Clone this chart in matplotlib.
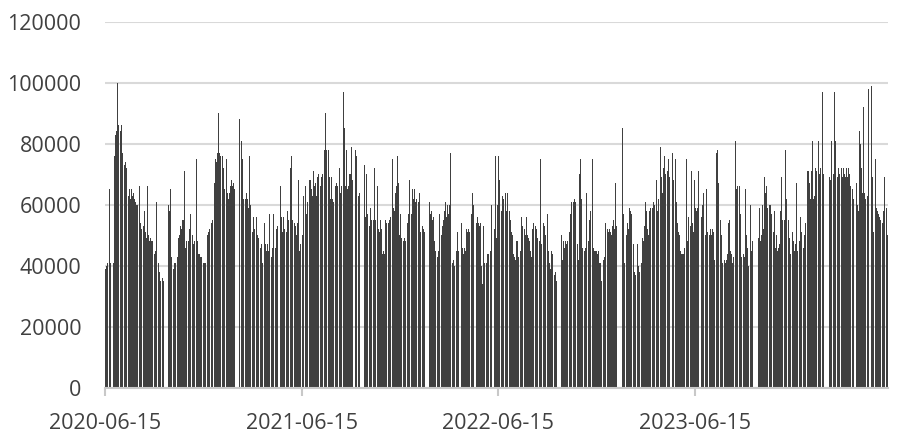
import numpy as np
import pandas as pd
import matplotlib
matplotlib.use('Agg')
import matplotlib.pyplot as plt

# daily values in thousands, one row per month (trading days only)
vol_2020 = [
    39, 40, 39, 41, 40, 65, 42, 41, 40, 41,
    41, 76, 83, 84, 100, 85, 78, 86, 84, 86, 85, 77, 76, 72, 73, 71, 74, 72, 63, 62, 64, 65, 62,
    65, 63, 62, 64, 62, 61, 60, 59, 58, 60, 56, 66, 54, 50, 52, 53, 51, 58, 52, 51, 49,
    66, 50, 49, 48, 49, 48, 47, 48, 47, 44, 42, 45, 43, 61, 41, 40, 38, 37, 35, 33, 36, 35,
    60, 58, 57, 65, 43, 41, 37, 39, 41, 40, 41, 40, 43, 46, 49, 50,
    53, 52, 54, 55, 55, 71, 46, 45, 47, 48, 48, 50, 52, 57, 51, 50, 46, 45, 47, 48, 46,
    75, 48, 46, 44, 44, 43, 42, 43, 41, 41, 40, 41, 40, 41, 40, 50, 51, 50, 52, 54, 53, 55, 54,
]
vol_2021 = [
    67, 75, 73, 74, 77, 90, 77, 71, 76, 72, 70, 76, 72, 64, 65, 64, 75, 63, 64, 62,
    64, 66, 68, 65, 66, 67, 65, 60, 88, 81, 81, 78, 75, 70, 62,
    62, 60, 64, 61, 62, 59, 62, 76, 60, 58, 51, 56, 54, 52, 50, 53, 56, 50, 48, 49, 46, 41, 47,
    44, 41, 54, 47, 41, 45, 47, 45, 44, 57, 46, 43, 42, 46, 52, 57, 44, 46, 52, 49, 53,
    66, 56, 51, 54, 56, 52, 50, 51, 55, 58, 53, 55, 45, 72, 76, 54, 55, 53,
    54, 53, 44, 50, 54, 68, 55, 45, 47, 50, 49, 55, 63, 66, 62, 57, 60, 61, 68, 62, 65,
    68, 65, 63, 71, 66, 64, 67, 63, 67, 69, 66, 70, 66, 64, 69, 70, 68, 78, 75, 90, 88, 78,
    78, 65, 63, 69, 62, 69, 62, 60, 61, 59, 66, 67, 65, 66, 64, 72, 65, 64, 63, 66, 90, 97,
    85, 67, 66, 78, 65, 64, 66, 70, 70, 79, 65, 66, 68, 78, 76, 72, 63, 62, 64, 63,
    73, 56, 55, 70, 57, 53, 53, 59, 56, 55, 53, 55, 54, 55, 72, 55,
    66, 54, 52, 50, 51, 55, 50, 52, 44, 45, 44, 55, 53, 52, 54, 54, 53, 55, 56, 54, 75, 57,
    59, 56, 58, 64, 66, 76, 69, 67, 50, 51, 57, 49, 48, 48, 47, 49, 48, 47, 54, 53, 55, 57, 68,
]
vol_2022 = [
    57, 56, 65, 62, 65, 61, 58, 62, 60, 61, 64, 58, 51, 50, 53, 51, 50, 52, 51,
    61, 57, 56, 58, 55, 56, 48, 47, 45, 44, 43, 37, 45, 57, 53, 50,
    45, 44, 53, 55, 58, 61, 56, 55, 60, 57, 58, 60, 77, 43, 41, 42, 38, 39, 40, 43, 45, 51, 44,
    45, 44, 54, 46, 44, 45, 46, 45, 52, 51, 52, 49, 51, 50, 54, 57, 64, 60, 58,
    54, 56, 54, 53, 54, 50, 40, 34, 36, 53, 35, 41, 41, 42, 44, 43, 44, 44, 45,
    60, 56, 51, 52, 50, 76, 49, 60, 58, 76, 68, 66, 58, 61, 63, 60, 62, 63, 64, 58, 57,
    64, 58, 57, 53, 55, 51, 50, 44, 42, 43, 42, 48, 47, 48, 41, 43, 41, 45, 56, 53, 51,
    52, 51, 50, 45, 56, 50, 49, 48, 43, 45, 43, 46, 52, 54, 50, 53, 52, 51, 49, 48, 48, 47, 75,
    46, 47, 45, 54, 53, 51, 50, 49, 57, 45, 41, 39, 44, 45, 44, 43, 36, 37, 38, 35, 32,
    50, 42, 48, 47, 46, 48, 45, 47, 46, 48, 51, 57, 56, 61, 60, 60,
    61, 62, 60, 61, 47, 42, 41, 42, 70, 75, 62, 48, 43, 46, 45, 46, 42, 60, 64, 46, 48, 47,
    55, 58, 55, 75, 46, 45, 45, 45, 44, 45, 44, 45, 41, 39, 41, 33, 35, 41, 42, 43, 54, 50,
]
vol_2023 = [
    52, 51, 50, 52, 51, 50, 49, 53, 55, 52, 51, 67, 50, 53, 58, 85,
    57, 55, 41, 40, 50, 54, 50, 52, 59, 58, 45, 57, 56, 47, 38, 37, 36, 37, 47, 41,
    40, 39, 38, 40, 41, 42, 49, 48, 53, 61, 58, 57, 52, 50, 58, 57, 59, 58, 59, 60, 61, 59, 60,
    68, 60, 58, 62, 65, 79, 65, 69, 64, 72, 76, 74, 69, 70, 71, 75, 73, 69, 68,
    77, 68, 75, 66, 61, 52, 54, 51, 50, 46, 45, 44, 44, 43, 44, 45, 46, 58, 75, 48,
    52, 56, 53, 50, 71, 52, 54, 51, 68, 55, 59, 58, 59, 71, 60, 56, 58, 60, 64, 55,
    50, 49, 65, 52, 51, 49, 50, 52, 51, 50, 52, 51, 50, 41, 42, 77, 78, 53, 52, 67, 55,
    51, 50, 42, 41, 41, 42, 41, 40, 42, 44, 43, 54, 55, 45, 44, 40, 41, 43, 42, 81, 73, 65, 66,
    65, 66, 61, 57, 44, 43, 44, 43, 42, 43, 65, 50, 46, 44, 40, 39, 60, 41, 45, 48,
    49, 48, 47, 59, 48, 50, 51, 60, 52, 69, 64, 63, 66, 59, 58, 57, 60,
    60, 57, 55, 47, 51, 58, 45, 46, 50, 45, 46, 45, 47, 58, 69, 58, 55, 54, 55, 57, 78, 62,
    62, 46, 55, 49, 48, 44, 51, 47, 48, 44, 45, 47, 46, 67, 44, 45, 48, 52, 56, 50, 51,
]
vol_2024 = [
    46, 47, 50, 54, 71, 68, 66, 71, 67, 62, 70, 71, 81, 62, 63, 72, 70, 68, 71, 73, 81, 70,
    71, 72, 97, 87, 70, 69, 69, 59, 68, 62, 81, 70, 97, 72, 71,
    81, 69, 65, 71, 72, 70, 72, 67, 69, 65, 72, 70, 69, 66, 72, 69, 72, 69, 70, 64, 66,
    64, 65, 62, 67, 62, 58, 60, 58, 84, 80, 71, 72, 64, 92, 64, 63, 61, 62, 63, 98,
    99, 60, 69, 61, 51, 73, 75, 59, 57, 58, 57, 56, 55, 54, 55, 54, 55, 58, 69, 57,
    59, 50, 49, 50, 51,
]

# weekday market holidays
holidays = [
    '2020-06-25', '2020-06-26',
    '2020-10-01', '2020-10-02', '2020-10-05', '2020-10-06', '2020-10-07', '2020-10-08',
    '2021-01-01',
    '2021-02-11', '2021-02-12', '2021-02-15', '2021-02-16', '2021-02-17',
    '2021-04-05', '2021-05-03', '2021-05-04', '2021-05-05', '2021-06-14',
    '2021-09-20', '2021-09-21',
    '2021-10-01', '2021-10-04', '2021-10-05', '2021-10-06', '2021-10-07',
    '2022-01-03', '2022-01-31', '2022-02-01', '2022-02-02', '2022-02-03', '2022-02-04',
    '2022-04-04', '2022-04-05', '2022-05-02', '2022-05-03', '2022-05-04', '2022-06-03',
    '2022-09-12', '2022-10-03', '2022-10-04', '2022-10-05', '2022-10-06', '2022-10-07',
    '2023-01-02', '2023-01-23', '2023-01-24', '2023-01-25', '2023-01-26', '2023-01-27',
    '2023-04-05', '2023-05-01', '2023-05-02', '2023-05-03', '2023-06-22', '2023-06-23',
    '2023-09-29', '2023-10-02', '2023-10-03', '2023-10-04', '2023-10-05', '2023-10-06',
    '2024-01-01', '2024-02-09', '2024-02-12', '2024-02-13', '2024-02-14', '2024-02-15',
    '2024-02-16', '2024-04-04', '2024-04-05', '2024-05-01', '2024-05-02', '2024-05-03',
]
tick_dates = ['2020-06-15', '2021-06-15', '2022-06-15', '2023-06-15']

days = pd.bdate_range('2020-06-15', '2024-06-07')
days = days[~days.isin(pd.to_datetime(holidays))]
values = np.array(vol_2020 + vol_2021 + vol_2022 + vol_2023 + vol_2024) * 1000
assert len(days) == len(values), (len(days), len(values))

plt.rcParams['font.family'] = ['Open Sans', 'DejaVu Sans']

fig = plt.figure(figsize=(9, 4.42), dpi=100)
ax = fig.add_axes([105 / 900, 54 / 442, 783 / 900, 366.5 / 442])

# one thin column per trading day; weekends stay as white slits
ax.vlines(days, 0, values, colors='#404040', linewidth=0.5, antialiased=False)

ax.set_ylim(0, 120000)
ax.set_yticks(range(0, 120001, 20000))
ax.set_xlim(days[0], days[-1])
ax.set_xticks(pd.to_datetime(tick_dates))
ax.set_xticklabels(tick_dates, ha='center')

ax.grid(axis='y', color='#d9d9d9', linewidth=1.5)
ax.set_axisbelow(True)
for s in ['top', 'right', 'left']:
    ax.spines[s].set_visible(False)
ax.spines['bottom'].set_color('#c8c8c8')
ax.spines['bottom'].set_linewidth(1.5)

ax.tick_params(axis='y', length=0, pad=17, labelsize=15.5, labelcolor='#404040')
ax.tick_params(axis='x', length=6, width=1.5, color='#c8c8c8', pad=12,
               labelsize=15.5, labelcolor='#404040')

fig.savefig('out.png', dpi=100)
